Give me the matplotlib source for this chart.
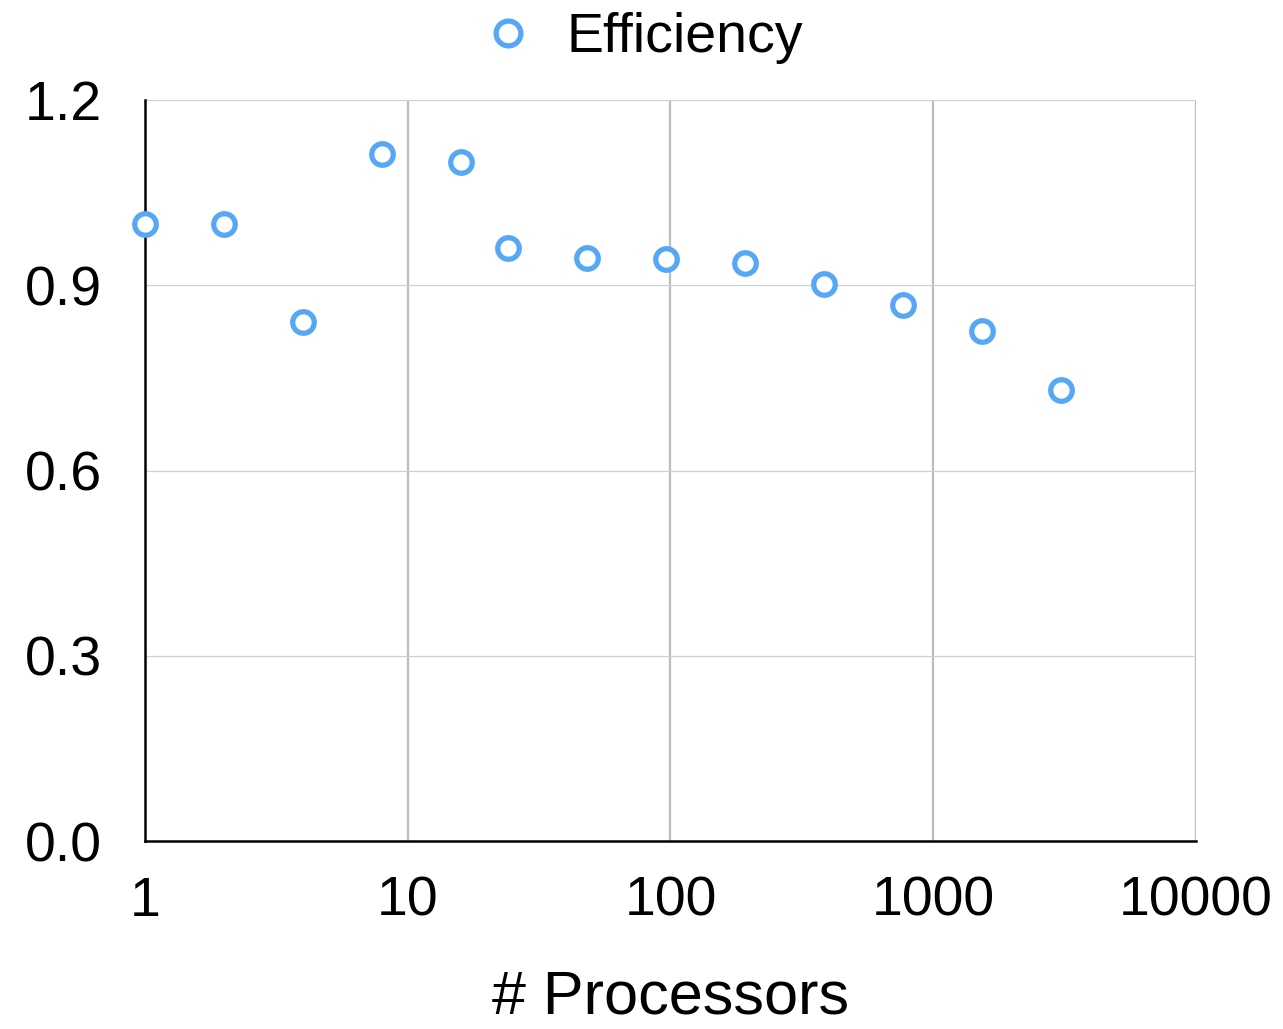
import matplotlib
matplotlib.use('Agg')
from matplotlib import pyplot as plt

plt.rcParams['font.family'] = ['Liberation Sans', 'DejaVu Sans']

processors = [1, 2, 4, 8, 16, 24, 48, 96, 192, 384, 768, 1536, 3072]
efficiency = [1.0, 1.0, 0.84, 1.112, 1.10, 0.96, 0.944, 0.942, 0.936, 0.902, 0.868, 0.826, 0.730]
y_ticks = [0.0, 0.3, 0.6, 0.9, 1.2]
x_ticks = [1, 10, 100, 1000, 10000]

fig = plt.figure(figsize=(12.83, 10.29), dpi=100)
ax = fig.add_axes([0.1130, 0.1827, 0.8192, 0.7201])

ax.plot(processors, efficiency, linestyle='none', marker='o', markersize=15.5,
        markerfacecolor='white', markeredgecolor='#56A8F5', markeredgewidth=3.8,
        label='Efficiency', zorder=5, clip_on=False)

ax.set_xscale('log')
ax.set_xlim(1, 10000)
ax.set_ylim(0, 1.2)
ax.set_xticks(x_ticks)
ax.set_xticklabels([str(t) for t in x_ticks])
ax.minorticks_off()
ax.set_yticks(y_ticks)
ax.set_yticklabels(['%.1f' % t for t in y_ticks])
ax.tick_params(axis='both', length=0, labelsize=40)
ax.tick_params(axis='y', pad=31)
ax.tick_params(axis='x', pad=25)

for t in x_ticks[1:]:
    ax.axvline(t, color='#BDBDBD', linewidth=1.6, zorder=1)
for t in y_ticks[1:]:
    ax.axhline(t, color='#D0D0D0', linewidth=0.9, zorder=1)

for s in ['top', 'right']:
    ax.spines[s].set_visible(False)
for s in ['left', 'bottom']:
    ax.spines[s].set_linewidth(1.8)
    ax.spines[s].set_color('black')
    ax.spines[s].set_zorder(3)

ax.set_xlabel('# Processors', fontsize=44, labelpad=30)

fig.legend(loc='center', bbox_to_anchor=(0.501, 0.963), frameon=False, fontsize=40,
           handletextpad=0.6, handlelength=0.9, markerscale=1.15)

fig.savefig('out.png', dpi=100)
